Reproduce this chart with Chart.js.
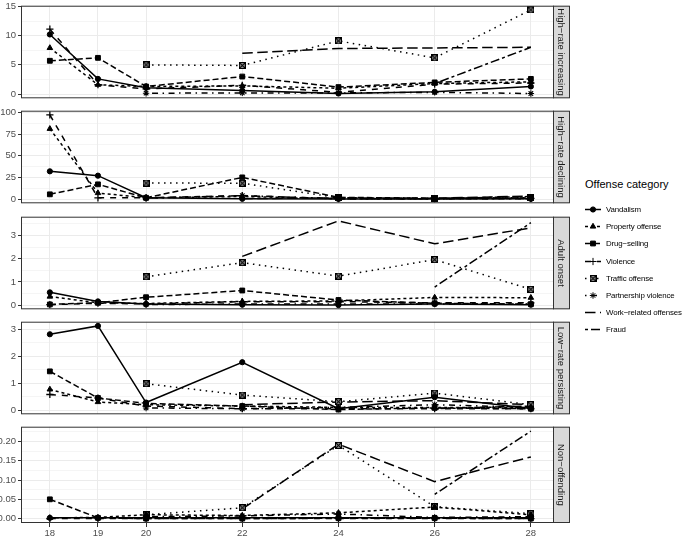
<!DOCTYPE html>
<html>
<head>
<meta charset="utf-8">
<script src="https://cdn.jsdelivr.net/npm/chart.js@4.4.1/dist/chart.umd.min.js"></script>
<style>
  body { margin: 0; background: #fff; width: 685px; height: 537px; overflow: hidden; position: relative;
         font-family: "Liberation Sans", Arial, sans-serif; }
  .panel { position: absolute; left: 0; }
  #legend { position: absolute; left: 585px; top: 178px; color: #000; white-space: nowrap; }
  #legend .title { font-size: 11px; line-height: 13px; margin-bottom: 10px; }
  #legend .row { display: flex; align-items: center; height: 17.2px; font-size: 7.9px; letter-spacing: -0.15px; }
  #legend canvas { margin-right: 5px; }
</style>
</head>
<body>
<div id="legend"><div class="title">Offense category</div></div>
<script>
// ages on the x axis
const ages = [18, 19, 20, 22, 24, 26, 28];

const categories = ['Vandalism', 'Property offense', 'Drug\u2212selling', 'Violence',
  'Traffic offense', 'Partnership violence', 'Work\u2212related offenses', 'Fraud'];

const groups = ['High\u2212rate increasing', 'High\u2212rate declining', 'Adult onset',
  'Low\u2212rate persisting', 'Non\u2212offending'];

// one row per offense category, same order as categories
const highRateIncreasing = [
  [10.2, 2.6, 1.1, 0.6, 0.1, 0.4, 1.3],
  [7.9, 1.6, 1.3, 1.4, 1.0, 1.8, 2.1],
  [5.7, 6.2, 1.3, 3.0, 1.2, 2.0, 2.6],
  [11.1, 1.6, 0.9, 1.5, 0.3, 1.7, 1.9],
  [null, null, 5.0, 4.9, 9.1, 6.2, 14.4],
  [null, null, 0.15, 0.2, 0.2, 0.3, 0.1],
  [null, null, null, 7.0, 7.8, 7.9, 8.0],
  [null, null, null, null, null, 1.8, 8.0]
];

const highRateDeclining = [
  [32, 27, 1.5, 0.3, 0.2, 0.2, 0.3],
  [81, 7, 1.5, 3, 0.5, 0.5, 1],
  [5.5, 17, 1.5, 25, 2, 1, 1.2],
  [97, 1.5, 1.5, 4, 0.5, 0.5, 0.8],
  [null, null, 18.5, 18.3, 1.5, 1, 1.5],
  [null, null, 1, 4, 0.5, 0.5, 0.5],
  [null, null, null, 0.5, 1.5, 1, 3.5],
  [null, null, null, null, null, 0.5, 3]
];

const adultOnset = [
  [0.55, 0.16, 0.05, 0.02, 0, 0.05, 0.02],
  [0.37, 0.1, 0.07, 0.16, 0.18, 0.33, 0.32],
  [0.03, 0.1, 0.34, 0.63, 0.22, 0.08, 0.04],
  [0.02, 0.08, 0.05, 0.15, 0.15, 0.1, 0.1],
  [null, null, 1.22, 1.83, 1.25, 1.96, 0.68],
  [null, null, 0.02, 0.05, 0.05, 0.05, 0.05],
  [null, null, null, 2.1, 3.63, 2.64, 3.33],
  [null, null, null, null, null, 0.78, 3.55]
];

const lowRatePersisting = [
  [2.82, 3.13, 0.28, 1.78, 0.05, 0.48, 0.06],
  [0.77, 0.3, 0.2, 0.15, 0.1, 0.1, 0.1],
  [1.44, 0.45, 0.25, 0.15, 0.02, 0.08, 0.05],
  [0.58, 0.45, 0.15, 0.05, 0.05, 0.05, 0.05],
  [null, null, 0.98, 0.56, 0.31, 0.63, 0.2],
  [null, null, 0.08, 0.05, 0.1, 0.2, 0.1],
  [null, null, null, 0.2, 0.3, 0.35, 0.2],
  [null, null, null, null, null, 0.05, 0.15]
];

const nonOffending = [
  [0.002, 0.002, 0.002, 0.002, 0.002, 0.002, 0.002],
  [0.002, 0.003, 0.01, 0.008, 0.015, 0.03, 0.01],
  [0.05, 0.002, 0, 0, 0.001, 0.001, 0],
  [0, 0, 0, 0, 0, 0, 0],
  [null, null, 0.01, 0.028, 0.19, 0.031, 0.013],
  [null, null, 0.005, 0.007, 0.012, 0.003, 0.005],
  [null, null, null, 0.025, 0.193, 0.096, 0.16],
  [null, null, null, null, null, 0.063, 0.227]
];

// y tick labels per panel
const ticksIncreasing = [0, 5, 10, 15];
const ticksDeclining = [0, 25, 50, 75, 100];
const ticksAdult = [0, 1, 2, 3];
const ticksLow = [0, 1, 2, 3];
const ticksNon = [0, 0.05, 0.10, 0.15, 0.20];

const panels = [
  { name: groups[0], rows: highRateIncreasing, ticks: ticksIncreasing, step: 5, min: -0.72, max: 15.12, dec: 0 },
  { name: groups[1], rows: highRateDeclining, ticks: ticksDeclining, step: 25, min: -4.85, max: 101.85, dec: 0 },
  { name: groups[2], rows: adultOnset, ticks: ticksAdult, step: 1, min: -0.18, max: 3.81, dec: 0 },
  { name: groups[3], rows: lowRatePersisting, ticks: ticksLow, step: 1, min: -0.157, max: 3.287, dec: 0 },
  { name: groups[4], rows: nonOffending, ticks: ticksNon, step: 0.05, min: -0.0114, max: 0.2384, dec: 2 }
];

const FONT = '"Liberation Sans", Arial, sans-serif';

// square with a cross, like ggplot shape 7
function boxCross() {
  const c = document.createElement('canvas');
  c.width = 7; c.height = 7;
  const g = c.getContext('2d');
  g.fillStyle = '#bbb';
  g.fillRect(0, 0, 7, 7);
  g.strokeStyle = '#000';
  g.lineWidth = 1.2;
  g.strokeRect(0.6, 0.6, 5.8, 5.8);
  g.beginPath();
  g.moveTo(0.6, 0.6); g.lineTo(6.4, 6.4);
  g.moveTo(6.4, 0.6); g.lineTo(0.6, 6.4);
  g.stroke();
  return c;
}

const dashes = [[], [3, 3], [6, 3], [6, 6], [1.5, 4.5], [1.5, 4.5, 6, 4.5], [10.5, 4.5], [3, 3, 9, 3]];
const shapes = ['circle', 'triangle', 'rect', 'cross', boxCross(), 'star', 'circle', 'circle'];
const radii = [2.6, 3.2, 3.4, 3.6, 3.5, 3.2, 0, 0];

const panelTop = 2, panelH = 100, gap = 5.25;
const plotLeft = 21, plotRight = 553, stripW = 16, canvasW = 572;

const panelFrame = {
  id: 'panelFrame',
  afterDraw(chart, args, opts) {
    const { ctx, chartArea: a } = chart;
    ctx.save();
    ctx.fillStyle = '#d9d9d9';
    ctx.fillRect(a.right, a.top, stripW, a.bottom - a.top);
    ctx.strokeStyle = '#333333';
    ctx.lineWidth = 1;
    ctx.strokeRect(a.right + 0.5, a.top + 0.5, stripW, a.bottom - a.top - 1);
    ctx.strokeRect(a.left + 0.5, a.top + 0.5, a.right - a.left, a.bottom - a.top - 1);
    ctx.translate(a.right + stripW / 2, (a.top + a.bottom) / 2);
    ctx.rotate(Math.PI / 2);
    ctx.fillStyle = '#1a1a1a';
    ctx.font = '9.5px ' + FONT;
    ctx.textAlign = 'center';
    ctx.textBaseline = 'middle';
    ctx.fillText(opts.label, 0, 0);
    ctx.restore();
  }
};

panels.forEach((p, i) => {
  const last = i === panels.length - 1;
  const div = document.createElement('div');
  div.className = 'panel';
  const padTop = 4, padBottom = last ? 2 : 4, xH = last ? 14 : 0;
  const h = padTop + panelH + xH + padBottom;
  div.style.top = (panelTop + i * (panelH + gap) - padTop) + 'px';
  const cv = document.createElement('canvas');
  cv.width = canvasW; cv.height = h;
  div.appendChild(cv);
  document.body.appendChild(div);

  const datasets = categories.map((cat, k) => ({
    label: cat,
    data: ages.map((a, j) => ({ x: a, y: p.rows[k][j] })),
    borderColor: '#000',
    backgroundColor: '#000',
    borderWidth: 1.5,
    borderDash: dashes[k],
    pointStyle: shapes[k],
    pointRadius: radii[k],
    pointBorderWidth: k === 3 ? 1.3 : (k === 5 ? 1.1 : 1),
    pointBackgroundColor: '#000',
    pointBorderColor: '#000',
    tension: 0
  }));

  const minors = [];
  for (let v = p.ticks[0] - p.step / 2; v <= p.max; v += p.step) {
    if (v >= p.min) minors.push(+v.toFixed(4));
  }
  const isMajor = v => p.ticks.some(t => Math.abs(t - v) < 1e-9);

  new Chart(cv, {
    type: 'line',
    data: { datasets },
    options: {
      responsive: false,
      animation: false,
      layout: { padding: { top: padTop, bottom: padBottom, left: 0, right: canvasW - plotRight } },
      plugins: { legend: { display: false }, tooltip: { enabled: false }, panelFrame: { label: p.name } },
      scales: {
        x: {
          type: 'linear', min: 17.4, max: 28.46,
          afterBuildTicks: s => { s.ticks = ages.map(v => ({ value: v })); },
          afterFit: s => { s.height = xH; },
          grid: { color: '#ebebeb', lineWidth: 1, drawTicks: last, tickLength: 4, tickColor: '#333' },
          border: { display: false },
          ticks: { display: last, padding: 1, color: '#4d4d4d', font: { family: FONT, size: 9.5 },
                   maxRotation: 0, autoSkip: false, callback: v => v }
        },
        y: {
          type: 'linear', min: p.min, max: p.max,
          afterBuildTicks: s => {
            s.ticks = p.ticks.concat(minors).sort((a, b) => a - b).map(v => ({ value: v }));
          },
          afterFit: s => { s.width = plotLeft; },
          grid: {
            color: '#ebebeb',
            lineWidth: c => (c.tick && isMajor(c.tick.value)) ? 1 : 0.5,
            tickColor: c => (c.tick && isMajor(c.tick.value)) ? '#333' : 'rgba(0,0,0,0)',
            tickLength: 3
          },
          border: { display: false },
          ticks: {
            padding: 2, color: '#4d4d4d', font: { family: FONT, size: 9.5 }, autoSkip: false,
            callback: v => isMajor(v) ? v.toFixed(p.dec) : ''
          }
        }
      }
    },
    plugins: [panelFrame]
  });
});

// legend built from the same categories and styles
const legend = document.getElementById('legend');
categories.forEach((cat, k) => {
  const row = document.createElement('div');
  row.className = 'row';
  const c = document.createElement('canvas');
  c.width = 16; c.height = 17;
  const g = c.getContext('2d');
  g.strokeStyle = '#000';
  g.lineWidth = 1.5;
  g.setLineDash(dashes[k]);
  g.beginPath(); g.moveTo(0, 8.5); g.lineTo(16, 8.5); g.stroke();
  g.setLineDash([]);
  if (radii[k] > 0) {
    g.fillStyle = '#000';
    g.lineWidth = 1;
    Chart.helpers.drawPoint(g, { pointStyle: shapes[k], radius: radii[k], borderWidth: 1, rotation: 0 }, 8, 8.5);
  }
  const t = document.createElement('span');
  t.textContent = cat;
  row.appendChild(c);
  row.appendChild(t);
  legend.appendChild(row);
});
</script>
</body>
</html>
